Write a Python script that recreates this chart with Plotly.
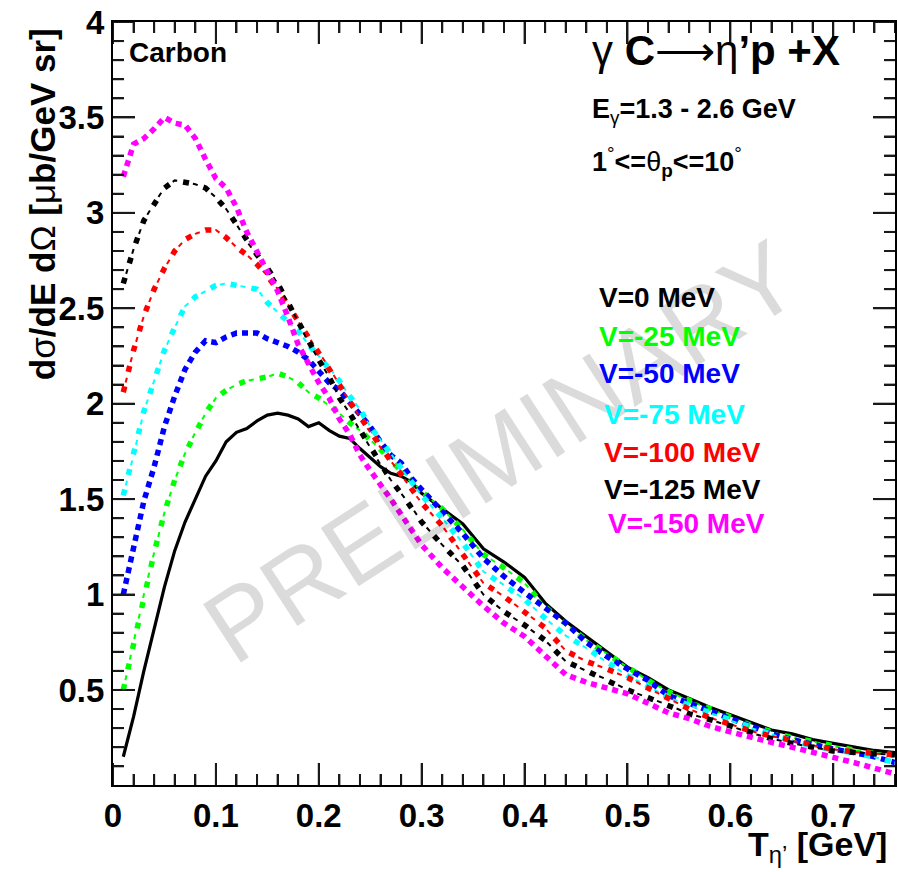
import plotly.graph_objects as go

# Kinetic energy of the eta' (GeV): fine binning up to 0.30, then every 0.02
t_eta = [round(0.01 * i, 2) for i in range(1, 31)] + [round(0.32 + 0.02 * i, 2) for i in range(23)]

# d sigma / dE dOmega (ub/GeV sr) for each potential depth
v_0 = [0.15, 0.36, 0.60, 0.82, 1.04, 1.23, 1.38, 1.50, 1.62, 1.70,
       1.80, 1.85, 1.87, 1.91, 1.94, 1.95, 1.94, 1.92, 1.88, 1.90,
       1.86, 1.83, 1.818, 1.765, 1.72, 1.67, 1.635, 1.62, 1.59, 1.53,
       1.45, 1.37, 1.24, 1.17, 1.09, 0.955, 0.86, 0.78, 0.70, 0.62,
       0.565, 0.50, 0.455, 0.41, 0.37, 0.33, 0.29, 0.27, 0.24, 0.22,
       0.20, 0.183, 0.172]
v_25 = [0.50, 0.75, 1.00, 1.22, 1.43, 1.60, 1.74, 1.85, 1.95, 2.03,
        2.07, 2.10, 2.12, 2.13, 2.14, 2.16, 2.14, 2.11, 2.06, 2.03,
        1.99, 1.95, 1.90, 1.86, 1.81, 1.76, 1.70, 1.65, 1.60, 1.54,
        1.45, 1.34, 1.21, 1.14, 1.06, 0.935, 0.845, 0.76, 0.69, 0.62,
        0.55, 0.49, 0.445, 0.40, 0.36, 0.315, 0.28, 0.25, 0.23, 0.205,
        0.185, 0.168, 0.16]
v_50 = [1.00, 1.24, 1.49, 1.67, 1.88, 2.04, 2.18, 2.27, 2.33, 2.32,
        2.35, 2.37, 2.37, 2.37, 2.34, 2.32, 2.30, 2.27, 2.23, 2.17,
        2.11, 2.07, 2.01, 1.95, 1.88, 1.80, 1.73, 1.69, 1.61, 1.55,
        1.44, 1.32, 1.19, 1.095, 1.01, 0.93, 0.85, 0.75, 0.675, 0.61,
        0.55, 0.47, 0.43, 0.39, 0.355, 0.315, 0.27, 0.24, 0.213, 0.19,
        0.172, 0.15, 0.12]
v_75 = [1.52, 1.73, 1.96, 2.12, 2.28, 2.40, 2.51, 2.56, 2.59, 2.62,
        2.63, 2.62, 2.61, 2.60, 2.53, 2.48, 2.43, 2.38, 2.31, 2.25,
        2.19, 2.12, 2.04, 1.97, 1.88, 1.81, 1.74, 1.66, 1.59, 1.52,
        1.40, 1.27, 1.12, 1.05, 0.975, 0.875, 0.785, 0.72, 0.645, 0.575,
        0.52, 0.46, 0.42, 0.38, 0.34, 0.30, 0.267, 0.236, 0.205, 0.186,
        0.172, 0.148, 0.12]
v_100 = [2.06, 2.28, 2.46, 2.60, 2.71, 2.80, 2.86, 2.89, 2.91, 2.91,
         2.87, 2.82, 2.78, 2.73, 2.67, 2.60, 2.52, 2.43, 2.35, 2.27,
         2.19, 2.10, 2.01, 1.93, 1.85, 1.77, 1.70, 1.63, 1.55, 1.48,
         1.36, 1.21, 1.06, 0.99, 0.91, 0.825, 0.705, 0.65, 0.61, 0.565,
         0.51, 0.455, 0.40, 0.355, 0.32, 0.285, 0.258, 0.233, 0.21, 0.19,
         0.175, 0.166, 0.16]
v_125 = [2.63, 2.81, 2.96, 3.05, 3.13, 3.17, 3.16, 3.15, 3.13, 3.08,
         3.02, 2.94, 2.85, 2.78, 2.71, 2.63, 2.53, 2.43, 2.32, 2.23,
         2.14, 2.03, 1.95, 1.86, 1.77, 1.68, 1.60, 1.53, 1.46, 1.38,
         1.26, 1.15, 1.00, 0.91, 0.84, 0.76, 0.65, 0.60, 0.555, 0.50,
         0.46, 0.42, 0.375, 0.345, 0.31, 0.275, 0.245, 0.22, 0.20, 0.18,
         0.173, 0.165, 0.16]
v_150 = [3.19, 3.36, 3.39, 3.44, 3.50, 3.47, 3.46, 3.39, 3.28, 3.18,
         3.13, 3.03, 2.90, 2.80, 2.69, 2.59, 2.455, 2.31, 2.21, 2.11,
         2.03, 1.92, 1.84, 1.73, 1.65, 1.58, 1.50, 1.42, 1.34, 1.26,
         1.14, 1.04, 0.94, 0.85, 0.78, 0.68, 0.58, 0.54, 0.51, 0.48,
         0.43, 0.38, 0.35, 0.31, 0.28, 0.25, 0.225, 0.20, 0.175, 0.15,
         0.12, 0.09, 0.06]

series_labels = ["V=0 MeV", "V=-25 MeV", "V=-50 MeV", "V=-75 MeV",
                 "V=-100 MeV", "V=-125 MeV", "V=-150 MeV"]
series_values = [v_0, v_25, v_50, v_75, v_100, v_125, v_150]
series_colors = ["#000000", "#00ff00", "#0000ff", "#00ffff",
                 "#ff0000", "#000000", "#ff00ff"]
# line style: solid, dotted squares, or square-dot + thin dash
series_styles = ["solid", "dashdot", "dot", "dashdot", "dashdot", "dashdot", "dot"]

# axis ticks: major step / minor step
x_range = [0, 0.76]
x_major, x_minor = 0.1, 0.02
y_range = [0.002, 4]   # lower edge just above 0 so the "0" label is not printed
y_major, y_minor = 0.5, 0.1

FONT = "Liberation Sans, Arial, Helvetica, sans-serif"
TICK_COLOR = "#1a1a1a"
MAJOR_LEN, MINOR_LEN = 22, 11

# plot-area geometry in pixels (used to place the text labels and tick marks)
W, H = 898, 872
L, R, T, B = 113, 1, 22, 87
PW, PH = W - L - R, H - T - B


def px(xp):
    return (xp - L) / PW


def py(yp):
    return (H - B - yp) / PH


fig = go.Figure()

for name, yv, col, sty in zip(series_labels, series_values, series_colors, series_styles):
    if sty == "solid":
        fig.add_trace(go.Scatter(x=t_eta, y=yv, mode="lines", name=name,
                                 line=dict(color=col, width=3.2)))
    elif sty == "dot":
        fig.add_trace(go.Scatter(x=t_eta, y=yv, mode="lines", name=name,
                                 line=dict(color=col, width=5.5, dash="6px,5px")))
    else:
        fig.add_trace(go.Scatter(x=t_eta, y=yv, mode="lines", name=name,
                                 line=dict(color=col, width=5.5, dash="6px,15px")))
        fig.add_trace(go.Scatter(x=t_eta, y=yv, mode="lines", name=name,
                                 showlegend=False,
                                 line=dict(color=col, width=2, dash="0px,10px,5px,6px")))

tick_font = dict(family=FONT, size=33, color="black", weight="bold")

fig.update_xaxes(range=x_range, tickmode="linear", tick0=0, dtick=x_major,
                 showline=True, linecolor="black", linewidth=2, mirror="allticks",
                 ticks="inside", ticklen=MAJOR_LEN, tickwidth=2, tickcolor=TICK_COLOR,
                 showgrid=False, zeroline=False, tickfont=tick_font,
                 minor=dict(ticks="inside", ticklen=MINOR_LEN, tickwidth=2,
                            tickcolor=TICK_COLOR, dtick=x_minor))
fig.update_yaxes(range=y_range, tickmode="linear", tick0=0, dtick=y_major,
                 showline=True, linecolor="black", linewidth=2, mirror="allticks",
                 ticks="inside", ticklen=MAJOR_LEN, tickwidth=2, tickcolor=TICK_COLOR,
                 showgrid=False, zeroline=False, tickfont=tick_font,
                 minor=dict(ticks="inside", ticklen=MINOR_LEN, tickwidth=2,
                            tickcolor=TICK_COLOR, dtick=y_minor))

# tick marks on all four sides of the frame (drawn as shapes from the tick steps)
tick_line = dict(color=TICK_COLOR, width=2)
shapes = []
n_x = int(round(x_range[1] / x_minor))
for i in range(n_x + 1):
    xv = round(i * x_minor, 4)
    is_major = abs(xv / x_major - round(xv / x_major)) < 1e-6
    ln = (MAJOR_LEN if is_major else MINOR_LEN) / PH
    shapes.append(dict(type="line", xref="x", yref="paper", x0=xv, x1=xv, y0=0, y1=ln,
                       line=tick_line))
    shapes.append(dict(type="line", xref="x", yref="paper", x0=xv, x1=xv, y0=1, y1=1 - ln,
                       line=tick_line))
n_y = int(round(y_range[1] / y_minor))
for i in range(1, n_y + 1):
    yv = round(i * y_minor, 4)
    is_major = abs(yv / y_major - round(yv / y_major)) < 1e-6
    ln = (MAJOR_LEN if is_major else MINOR_LEN) / PW
    shapes.append(dict(type="line", xref="paper", yref="y", x0=0, x1=ln, y0=yv, y1=yv,
                       line=tick_line))
    shapes.append(dict(type="line", xref="paper", yref="y", x0=1, x1=1 - ln, y0=yv, y1=yv,
                       line=tick_line))

ann = []
# watermark (translucent grey, drawn first so the labels sit on top of it)
ann.append(dict(text="PRELIMINARY", x=px(502), y=py(452), xref="paper", yref="paper",
                showarrow=False, textangle=-33, xanchor="center", yanchor="middle",
                font=dict(family=FONT, size=101, color="rgba(0,0,0,0.14)")))
# axis titles
ann.append(dict(text="<b>d</b>σ<b>/dE d</b>Ω<b> [</b>μ<b>b/GeV sr]</b>",
                x=px(42), y=py(26), xref="paper", yref="paper", showarrow=False,
                textangle=-90, xanchor="center", yanchor="top",
                font=dict(family=FONT, size=35, color="black")))
ann.append(dict(text="<b>T</b><sub>η’</sub><b> [GeV]</b>",
                x=px(891), y=py(847), xref="paper", yref="paper", showarrow=False,
                xanchor="right", yanchor="middle",
                font=dict(family=FONT, size=34, color="black")))
# panel labels
ann.append(dict(text="<b>Carbon</b>", x=px(127), y=py(53), xref="paper", yref="paper",
                showarrow=False, xanchor="left", yanchor="middle",
                font=dict(family=FONT, size=28, color="black")))
ann.append(dict(text="γ <b>C</b>⟶η<b>’p +X</b>", x=px(591), y=py(50), xref="paper",
                yref="paper", showarrow=False, xanchor="left", yanchor="middle",
                font=dict(family=FONT, size=42, color="black")))
ann.append(dict(text="<b>E</b><sub>γ</sub><b>=1.3 - 2.6 GeV</b>", x=px(591), y=py(111),
                xref="paper", yref="paper", showarrow=False, xanchor="left",
                yanchor="middle", font=dict(family=FONT, size=27, color="black")))
ann.append(dict(text="<b>1</b><sup>°</sup><b>&lt;=</b>θ<sub><b>p</b></sub><b>&lt;=10</b><sup>°</sup>",
                x=px(591), y=py(162), xref="paper", yref="paper", showarrow=False,
                xanchor="left", yanchor="middle",
                font=dict(family=FONT, size=27, color="black")))

# colour-coded legend text
legend_pos = [(598, 297), (598, 336), (598, 374), (603, 414), (603, 452), (603, 489), (607, 523)]
for name, col, (lx, ly) in zip(series_labels, series_colors, legend_pos):
    ann.append(dict(text="<b>" + name + "</b>", x=px(lx), y=py(ly), xref="paper",
                    yref="paper", showarrow=False, xanchor="left", yanchor="middle",
                    font=dict(family=FONT, size=28, color=col)))

fig.update_layout(
    width=W, height=H,
    margin=dict(l=L, r=R, t=T, b=B),
    paper_bgcolor="white", plot_bgcolor="white",
    showlegend=False,
    annotations=ann,
    shapes=shapes,
    font=dict(family=FONT, color="black"),
)

fig.write_html("out.html")
